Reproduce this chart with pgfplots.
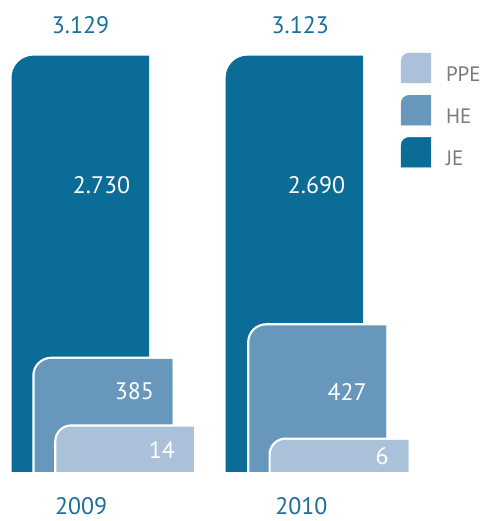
\documentclass[border=0pt]{standalone}
\usepackage{pgfplots}
\pgfplotsset{compat=1.18}
\usepackage{fontspec}
\setmainfont{PT Sans}
\definecolor{je}{HTML}{0B6C97}
\definecolor{he}{HTML}{6897BC}
\definecolor{ppe}{HTML}{AAC1D9}
\definecolor{txtblue}{HTML}{1A6E9A}
\definecolor{leggray}{HTML}{7A7A7A}
\newcommand{\bigfnt}{\fontsize{24}{28}\selectfont}
\begin{document}
\begin{tikzpicture}
\begin{axis}[
  at={(0,0)}, anchor=south west,
  width=495pt, height=474pt, scale only axis,
  xmin=0, xmax=495, ymin=0, ymax=474,
  axis line style={draw=none}, tick style={draw=none},
  ytick=\empty,
  xtick={81.5,303}, xticklabels={\mbox{2009},\mbox{2010}},
  xticklabel style={anchor=center, yshift=-35pt, inner sep=0pt, font=\bigfnt, text=txtblue},
  clip bounding box=upper bound,
  legend style={draw=none, fill=none, at={(axis cs:403,421)}, anchor=north west,
    inner sep=0pt, row sep=12pt, font=\fontsize{21}{25}\selectfont, text=leggray,
    nodes={inner sep=0pt}},
  legend cell align=left,
]
% JE bars
\addplot[forget plot, fill=je, draw=none, rounded corners=22pt] coordinates {(150,418) (11.7,418) (11.7,-30) (150,-30)};
\addplot[forget plot, fill=je, draw=none, rounded corners=22pt] coordinates {(365,418) (227,418) (227,-30) (365,-30)};
% HE bars
\addplot[forget plot, fill=he, draw=none, rounded corners=17pt, preaction={draw=white, line width=4.5pt}] coordinates {(173.3,113) (34.7,113) (34.7,-30) (173.3,-30)};
\addplot[forget plot, fill=he, draw=none, rounded corners=17pt, preaction={draw=white, line width=4.5pt}] coordinates {(388.3,146.7) (250.8,146.7) (250.8,-30) (388.3,-30)};
% PPE bars
\addplot[forget plot, fill=ppe, draw=none, rounded corners=15pt, preaction={draw=white, line width=4.5pt}] coordinates {(195,45) (56.8,45) (56.8,-30) (195,-30)};
\addplot[forget plot, fill=ppe, draw=none, rounded corners=15pt, preaction={draw=white, line width=4.5pt}] coordinates {(410.7,31.7) (272.3,31.7) (272.3,-30) (410.7,-30)};
% value labels inside bars
\addplot[forget plot, only marks, mark=none, nodes near coords, point meta=explicit symbolic,
  nodes near coords style={anchor=east, inner sep=0pt, text=white, font=\bigfnt}]
  table[meta=label] {
x y label
131 287.5 2.730
347.3 287.5 2.690
155 80.5 385
176 21 14
369 80 427
391 15.5 6
};
% totals
\addplot[forget plot, only marks, mark=none, nodes near coords, point meta=explicit symbolic,
  nodes near coords style={anchor=center, inner sep=0pt, text=txtblue, font=\bigfnt}]
  table[meta=label] {
x y label
81 448.5 3.129
302 448.5 3.123
};
% legend
\addlegendimage{legend image code/.code={\fill[ppe] (0pt,-8pt) -- (0pt,14pt) arc[start angle=180,end angle=90,radius=8pt] -- (30pt,22pt) -- (30pt,-8pt) -- cycle;}}
\addlegendentry{\hspace{15pt}PPE}
\addlegendimage{legend image code/.code={\fill[he] (0pt,-8pt) -- (0pt,14pt) arc[start angle=180,end angle=90,radius=8pt] -- (30pt,22pt) -- (30pt,-8pt) -- cycle;}}
\addlegendentry{\hspace{15pt}HE}
\addlegendimage{legend image code/.code={\fill[je] (0pt,-8pt) -- (0pt,14pt) arc[start angle=180,end angle=90,radius=8pt] -- (30pt,22pt) -- (30pt,-8pt) -- cycle;}}
\addlegendentry{\hspace{15pt}JE}
\end{axis}
\pgfresetboundingbox
\path[use as bounding box] (0pt,-50pt) rectangle (495pt,474pt);
\end{tikzpicture}
\end{document}
